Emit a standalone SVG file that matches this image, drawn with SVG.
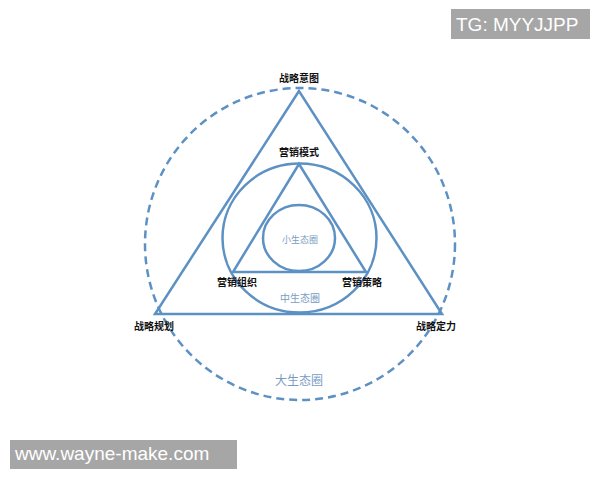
<svg xmlns="http://www.w3.org/2000/svg" width="600" height="480" viewBox="0 0 600 480">
<style>
.ln{fill:none;stroke:#5d91c4;stroke-width:2.5}
.dash{fill:none;stroke:#5d91c4;stroke-width:2.5;stroke-dasharray:8 5}
.lb{font-family:"Noto Sans CJK SC","Noto Sans CJK JP",sans-serif;font-size:10px;font-weight:bold;fill:#111;text-anchor:middle}
.eco{font-family:"Liberation Serif","Noto Sans CJK SC",serif;fill:#7b9cc2;text-anchor:middle}
.wm{font-family:"Liberation Sans","DejaVu Sans",sans-serif;font-size:19px;fill:#ffffff}
</style>
<rect width="600" height="480" fill="#ffffff"/>
<g id="shapes">
<ellipse id="outer" class="dash" cx="300" cy="244" rx="155" ry="156"/>
<polygon id="bigtri" class="ln" points="299,91 155,314 442,314"/>
<ellipse id="midcircle" class="ln" cx="299.5" cy="238" rx="77" ry="74.5"/>
<polygon id="smalltri" class="ln" points="299,164 233,272 366,272"/>
<ellipse id="smallcircle" class="ln" cx="299" cy="238" rx="36" ry="33"/>
</g>
<g id="labels">
<text class="lb" x="299" y="82">战略意图</text>
<text class="lb" x="299" y="156">营销模式</text>
<text class="lb" x="237" y="286">营销组织</text>
<text class="lb" x="362" y="286">营销策略</text>
<text class="lb" x="154" y="330">战略规划</text>
<text class="lb" x="436" y="330">战略定力</text>
<text class="eco" x="300" y="243" font-size="9">小生态圈</text>
<text class="eco" x="300" y="302" font-size="10">中生态圈</text>
<text class="eco" x="299" y="385" font-size="12">大生态圈</text>
</g>
<g id="watermarks">
<rect x="451" y="9" width="139" height="30" fill="#a6a6a6"/>
<text class="wm" x="456" y="31">TG: MYYJJPP</text>
<rect x="10" y="440" width="227" height="29" fill="#a6a6a6"/>
<text class="wm" x="15" y="460">www.wayne-make.com</text>
</g>
</svg>
